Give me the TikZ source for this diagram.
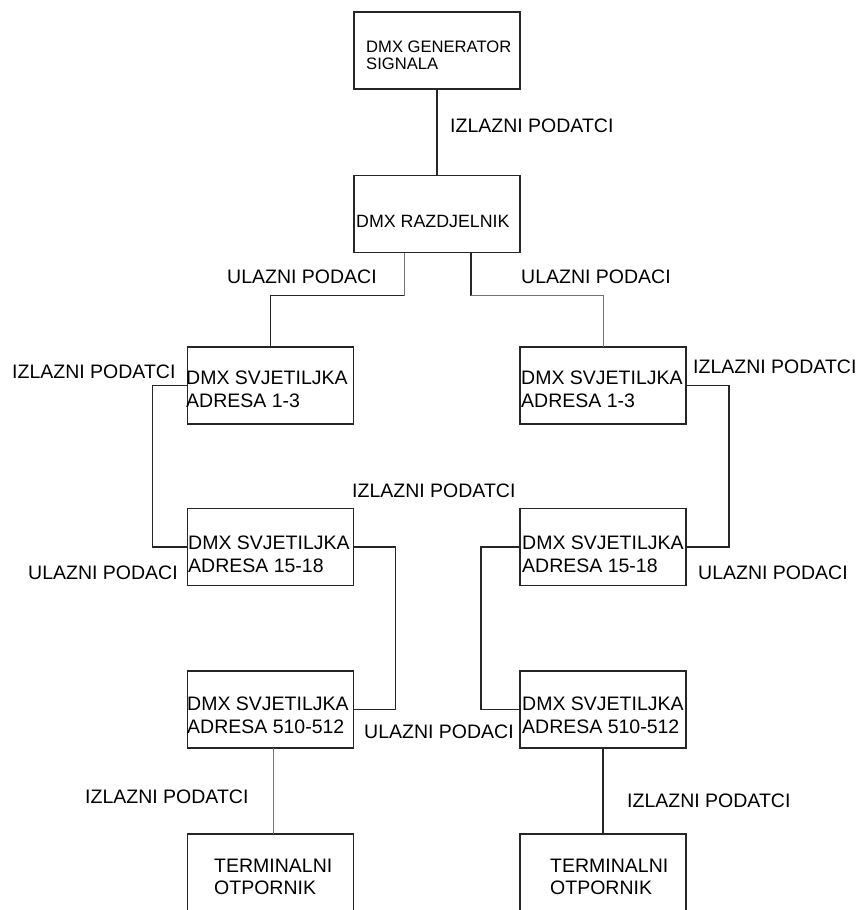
\documentclass[tikz,border=0pt]{standalone}
\usepackage{fontspec}
\setmainfont{Liberation Sans}
\begin{document}
\begin{tikzpicture}[x=1pt,y=-1pt,
  box/.style={draw=black!85, line width=1.3pt, minimum width=166pt, minimum height=77pt, inner sep=0pt, outer sep=0pt},
  lbl/.style={anchor=base west, inner sep=0pt, font=\fontsize{19.5}{23}\selectfont},
  conn/.style={draw=black!85, line width=1.4pt},
  gconn/.style={draw=black!55, line width=0.9pt}]
\useasboundingbox (0,0) rectangle (866,910);
% boxes
\node[box] (gen) at (437,50.5) {};
\node[box] (rz) at (437,214) {};
\node[box] (s1l) at (270.5,385.5) {};
\node[box] (s1r) at (603,385.5) {};
\node[box] (s2l) at (270.5,547) {};
\node[box] (s2r) at (603,547) {};
\node[box] (s3l) at (270.5,709.5) {};
\node[box] (s3r) at (603,709.5) {};
\node[box, minimum height=90pt] (t1) at (270.5,879) {};
\node[box, minimum height=90pt] (t2) at (603,879) {};
% box texts
\node[lbl, font=\fontsize{16.6}{20}\selectfont] (gen1) at (366,52) {DMX GENERATOR};
\node[lbl, font=\fontsize{16.6}{20}\selectfont] (gen2) at (366,69) {SIGNALA};
\node[lbl, font=\fontsize{17.8}{21}\selectfont] (rz1) at (356,227) {DMX RAZDJELNIK};
\node[lbl] (s1la) at (186,384) {DMX SVJETILJKA};
\node[lbl] (s1lb) at (186,407) {ADRESA 1-3};
\node[lbl] (s1ra) at (521,384) {DMX SVJETILJKA};
\node[lbl] (s1rb) at (521,407) {ADRESA 1-3};
\node[lbl] (s2la) at (188,549) {DMX SVJETILJKA};
\node[lbl] (s2lb) at (188,572) {ADRESA 15-18};
\node[lbl] (s2ra) at (522,549) {DMX SVJETILJKA};
\node[lbl] (s2rb) at (522,572) {ADRESA 15-18};
\node[lbl] (s3la) at (187,710) {DMX SVJETILJKA};
\node[lbl] (s3lb) at (187,733) {ADRESA 510-512};
\node[lbl] (s3ra) at (522,710) {DMX SVJETILJKA};
\node[lbl] (s3rb) at (522,733) {ADRESA 510-512};
\node[lbl] (t1a) at (214,872) {TERMINALNI};
\node[lbl] (t1b) at (214,894) {OTPORNIK};
\node[lbl] (t2a) at (550,872) {TERMINALNI};
\node[lbl] (t2b) at (550,894) {OTPORNIK};
% connector labels
\node[lbl] (l1) at (450,132) {IZLAZNI PODATCI};
\node[lbl] (l2) at (227,283) {ULAZNI PODACI};
\node[lbl] (l3) at (521,283) {ULAZNI PODACI};
\node[lbl] (l4) at (12,378) {IZLAZNI PODATCI};
\node[lbl] (l5) at (693,373) {IZLAZNI PODATCI};
\node[lbl] (l6) at (352,497) {IZLAZNI PODATCI};
\node[lbl] (l7) at (28,579) {ULAZNI PODACI};
\node[lbl] (l8) at (698,579) {ULAZNI PODACI};
\node[lbl] (l9) at (364,738) {ULAZNI PODACI};
\node[lbl] (l10) at (85,803) {IZLAZNI PODATCI};
\node[lbl] (l11) at (627,807) {IZLAZNI PODATCI};
% connectors
\draw[conn] (gen.south) -- (rz.north);
\draw[gconn] ([xshift=-33pt]rz.south) -- ++(0,43) coordinate (k1);
\draw[conn] (k1) -| (s1l.north);
\draw[conn] ([xshift=34pt]rz.south) -- ++(0,43) coordinate (k2);
\draw[gconn] (k2) -| (s1r.north);
\draw[conn] (s1l.west) -- ++(-35,0) |- (s2l.west);
\draw[conn] (s2l.east) -- ++(42,0) |- (s3l.east);
\draw[gconn] ([xshift=3pt]s3l.south) -- ([xshift=3pt]t1.north);
\draw[conn] (s1r.east) -- ++(43,0) |- (s2r.east);
\draw[conn] (s2r.west) -- ++(-39,0) |- (s3r.west);
\draw[conn] (s3r.south) -- (t2.north);
\end{tikzpicture}
\end{document}
